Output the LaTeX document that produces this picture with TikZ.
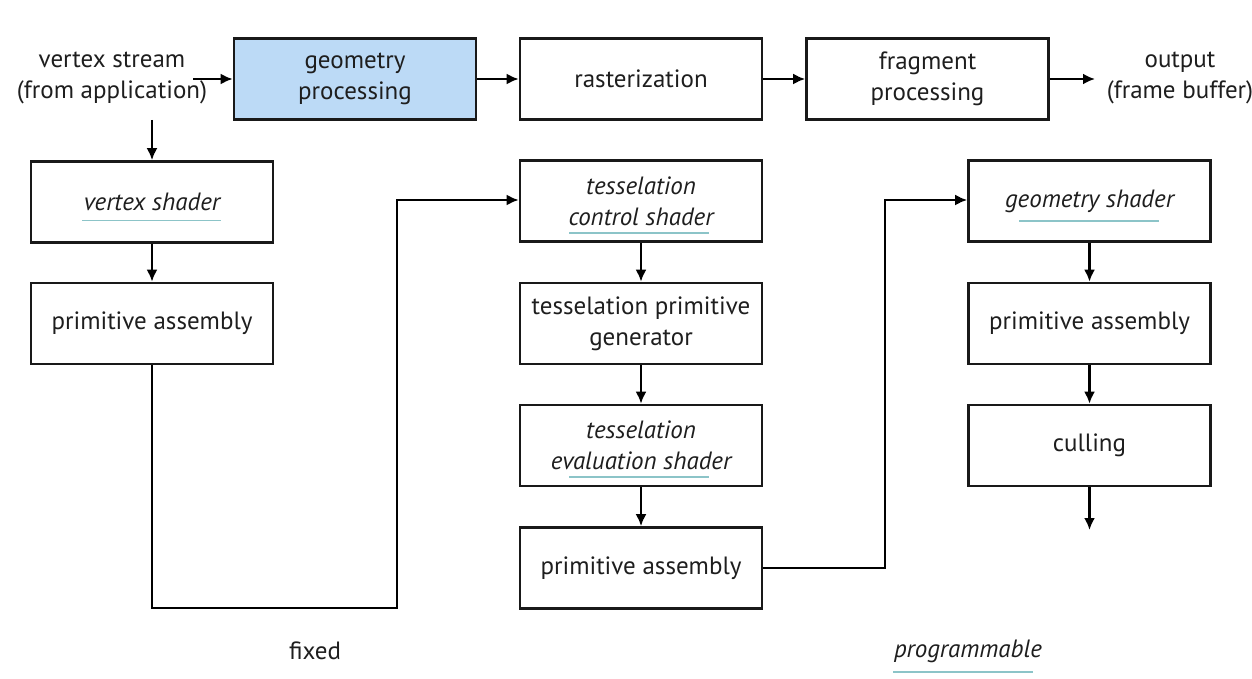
\documentclass[tikz,border=0pt]{standalone}
\usepackage{fontspec}
\setmainfont{PT Sans}
\usetikzlibrary{arrows.meta,calc}
\definecolor{txt}{HTML}{1E1E1E}
\definecolor{blue1}{HTML}{BCDAF6}
\definecolor{ulc}{HTML}{8CC4C8}
\begin{document}
\begin{tikzpicture}[x=0.5pt,y=-0.5pt,
  box/.style={draw=black!90,line width=1.3pt,minimum width=121pt,minimum height=40.5pt,align=center,text=txt,inner sep=0pt,font=\fontsize{12.5pt}{15.5pt}\selectfont},
  lbl/.style={align=center,text=txt,inner sep=0pt,font=\fontsize{12.5pt}{15.5pt}\selectfont},
  conn/.style={line width=1.3pt,-{Latex[length=6pt,width=5.5pt]}},
  ulline/.style={ulc,line width=0.9pt}]
\useasboundingbox (0,0) rectangle (1252,679);
% top row
\node[box,fill=blue1] (geo) at (355,79) {geometry\\processing};
\node[box] (ras) at (641,79) {rasterization};
\node[box] (frag) at (927.5,79) {fragment\\processing};
\node[lbl] (vs) at (112,78) {vertex stream\\(from application)};
\node[lbl] (out) at (1180,78) {output\\(frame buffer)};
\coordinate (vsend) at (193,79);
\coordinate (outend) at (1095,79);
\coordinate (vsdown) at (152,120);
% left column
\node[box] (vsh) at (152,202) {\itshape vertex shader};
\node[box] (pa1) at (152,323.5) {primitive assembly};
% middle column
\node[box] (tcs) at (641,201) {\itshape tesselation\\\itshape control shader};
\node[box] (tpg) at (641,323.5) {tesselation primitive\\generator};
\node[box] (tes) at (641,445.5) {\itshape tesselation\\\itshape evaluation shader};
\node[box] (pa2) at (641,568) {primitive assembly};
% right column
\node[box] (gsh) at (1089.5,201) {\itshape geometry shader};
\node[box] (pa3) at (1089.5,323.5) {primitive assembly};
\node[box] (cul) at (1089.5,445.5) {culling};
\coordinate (culend) at (1089.5,530);
% bottom labels
\node[lbl] (fixed) at (315,651) {fixed};
\node[lbl] (prog) at (968,651) {\itshape programmable};
% underlines
\draw[ulline] (82,220.5) -- (221,220.5);
\draw[ulline] (569,233) -- (709,233);
\draw[ulline] (569,477) -- (709,477);
\draw[ulline] (1019,221) -- (1159,221);
\draw[ulline] (893,672) -- (1033,672);
% connectors
\draw[conn] (vsend) -- (geo.west);
\draw[conn] (geo) -- (ras);
\draw[conn] (ras) -- (frag);
\draw[conn] (frag.east) -- (outend);
\draw[conn] (vsdown) -- (vsh.north);
\draw[conn] (vsh) -- (pa1);
\draw[conn] (pa1.south) -- (152,608) -| (397,200) -- (tcs.west |- 0,200);
\draw[conn] (tcs) -- (tpg);
\draw[conn] (tpg) -- (tes);
\draw[conn] (tes) -- (pa2);
\draw[conn] (pa2.east) -| (885,200) -- (gsh.west |- 0,200);
\draw[conn] (gsh) -- (pa3);
\draw[conn] (pa3) -- (cul);
\draw[conn] (cul) -- (culend);
\end{tikzpicture}
\end{document}
